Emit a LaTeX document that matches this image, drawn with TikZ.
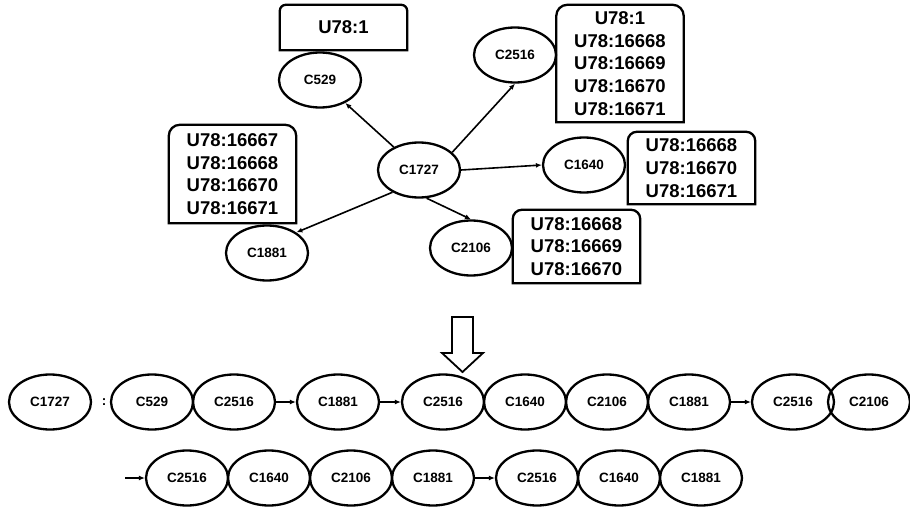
\documentclass[tikz,border=0pt]{standalone}
\usepackage{fontspec}
\setmainfont{Liberation Sans}
\usetikzlibrary{arrows.meta,shapes.geometric}
\tikzset{>={Latex[length=6pt,width=5pt]}}
\tikzset{
  cnode/.style={draw, ellipse, line width=2.3pt, minimum width=82pt, minimum height=55pt,
    inner sep=0pt, font=\fontsize{13.5}{16}\selectfont\bfseries},
  ubox/.style={inner sep=0pt, minimum width=127pt, align=center,
    font=\fontsize{18.5}{22.7}\selectfont\bfseries},
  conn/.style={->, line width=1.6pt},
}

\begin{document}
\begin{tikzpicture}[x=1pt,y=-1pt]
    \useasboundingbox (0,0) rectangle (910,508);

    % star around C1727
    \node[cnode] (c1727) at (419,170) {C1727};
    \node[cnode] (c529)  at (320,80)  {C529};
    \node[cnode] (c2516) at (515,55)  {C2516};
    \node[cnode] (c1640) at (584,165) {C1640};
    \node[cnode] (c2106) at (471,248) {C2106};
    \node[cnode] (c1881) at (267,253) {C1881};

    \draw[conn] (c1727) -- (c529);
    \draw[conn] (c1727.28) -- (c2516.south);
    \draw[conn] (c1727.east) -- (c1640.west);
    \draw[conn] (c1727.-75) -- (c2106.north);
    \draw[conn] (c1727.220) -- (c1881.35);

    % label boxes
    \node[ubox, minimum height=45pt] (b529) at (343.5,27.5) {U78:1};
    \node[ubox, minimum height=117pt] (b2516) at (620,63.5)
        {U78:1\\U78:16668\\U78:16669\\U78:16670\\U78:16671};
    \node[ubox, minimum height=98pt] (b1881) at (232.5,174)
        {U78:16667\\U78:16668\\U78:16670\\U78:16671};
    \node[ubox, minimum height=72pt] (b1640) at (691.5,168)
        {U78:16668\\U78:16670\\U78:16671};
    \node[ubox, minimum height=73pt] (b2106) at (576.5,246.5)
        {U78:16668\\U78:16669\\U78:16670};
    \foreach \b/\r in {b529/6pt, b2516/11pt, b1881/11pt, b1640/9pt, b2106/9pt}
        \draw[line width=2.3pt] (\b.south west) [rounded corners=\r] -- (\b.north west)
            -- (\b.north east) [sharp corners] -- (\b.south east) -- cycle;

    % hollow arrow down
    \draw[line width=1.8pt] (452,317) -- (473,317) -- (473,353) -- (483,353) -- (462.5,372)
        -- (442,353) -- (452,353) -- cycle;

    % first row
    \node[cnode] (r1) at (50,402) {C1727};
    \node[font=\fontsize{13.5}{16}\selectfont\bfseries] (colon) at (104,402) {:};
    \foreach \n/\x/\t in {r2/152/C529, r3/234/C2516, r4/338/C1881, r5/443/C2516,
        r6/525/C1640, r7/607/C2106, r8/689/C1881, r9/793/C2516, r10/869/C2106}
        \node[cnode] (\n) at (\x,402) {\t};
    \draw[conn] (r3) -- (r4);
    \draw[conn] (r4) -- (r5);
    \draw[conn] (r8) -- (r9);

    % second row
    \coordinate (s0) at (125,478);
    \foreach \n/\x/\t in {s1/187/C2516, s2/269/C1640, s3/351/C2106, s4/433/C1881,
        s5/537/C2516, s6/619/C1640, s7/701/C1881}
        \node[cnode] (\n) at (\x,478) {\t};
    \draw[conn] (s0) -- (s1);
    \draw[conn] (s4) -- (s5);

\end{tikzpicture}
\end{document}
